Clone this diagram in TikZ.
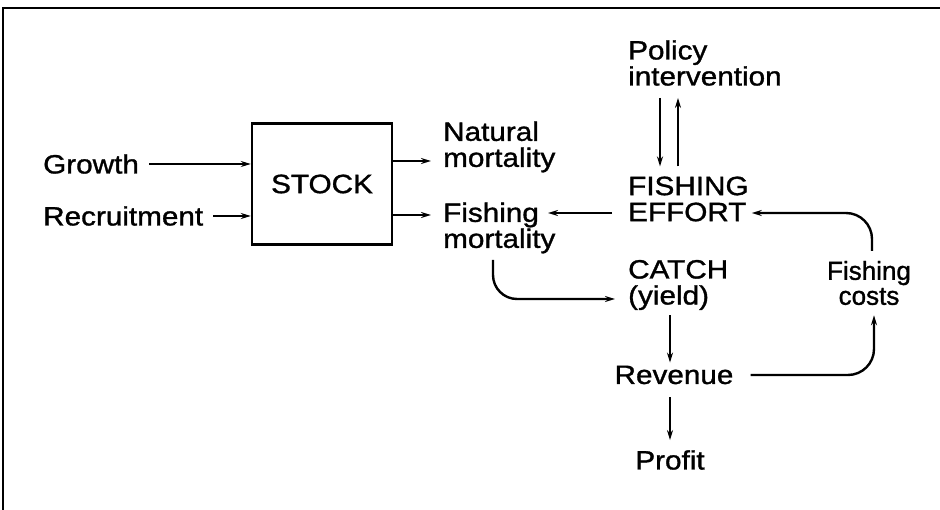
\documentclass[tikz,border=0pt]{standalone}
\usepackage{fontspec}
\setmainfont[FakeStretch=1.12, FakeBold=1.2]{Liberation Sans}
\newfontfamily\plainsans[FakeBold=1.2]{Liberation Sans}
\usetikzlibrary{arrows.meta}
\newcommand\bigtxt{\fontsize{26.5}{26}\selectfont}
\newcommand\smalltxt{\plainsans\fontsize{26}{25}\selectfont}
\tikzset{
  lbl/.style={inner sep=0pt, anchor=west, align=left, font=\bigtxt},
  flow/.style={line width=2.4pt, -{Stealth[length=10pt,width=6pt]}},
  stockbox/.style={draw, line width=2.4pt, minimum width=140pt, minimum height=121pt, font=\bigtxt}
}
\begin{document}
\begin{tikzpicture}[x=1pt, y=-1pt]
\useasboundingbox (0,0) rectangle (940,510);
% frame
\draw[line width=1.6pt] (3,510) -- (3,8) -- (940,8);

% stock side
\node[lbl] (growth) at (43,164) {Growth};
\node[lbl] (recruit) at (43,216) {Recruitment};
\node[stockbox] (stock) at (322,184) {STOCK};
\node[lbl] (natural) at (443,147) {Natural\\mortality};
\node[lbl] (fishmort) at (443,228) {Fishing\\mortality};

% economics side
\node[lbl] (policy) at (628,63) {Policy\\intervention};
\node[lbl] (effort) at (628,199) {FISHING\\EFFORT};
\node[lbl] (catch) at (628,285) {CATCH\\(yield)};
\node[lbl, font=\smalltxt, align=center, anchor=center] (costs) at (869,283) {Fishing\\costs};
\node[lbl, anchor=center] (revenue) at (674,375) {Revenue};
\node[lbl, anchor=center] (profit) at (670,460) {Profit};

\coordinate (natin) at ([xshift=-12pt,yshift=-14pt]natural.west);
\coordinate (fmin) at ([xshift=-12pt,yshift=13pt]fishmort.west);
\coordinate (fmend) at (548,213);
\coordinate (fmbot) at (493,260);
\coordinate (catchin) at ([xshift=-13pt,yshift=-14pt]catch.west);
\coordinate (effin) at ([xshift=3pt,yshift=-14pt]effort.east);
\coordinate (effout) at ([xshift=-16pt,yshift=-14pt]effort.west);

\draw[flow] ([xshift=10pt]growth.east) -- (stock.west |- growth.east);
\draw[flow] ([xshift=10pt]recruit.east) -- (stock.west |- recruit.east);
\draw[flow] (stock.east |- natin) -- (natin);
\draw[flow] (stock.east |- fmin) -- (fmin);

\draw[flow] ([xshift=32pt,yshift=-12pt]policy.south west) -- ([xshift=32pt,yshift=10pt]effort.north west);
\draw[flow] ([xshift=50pt,yshift=10pt]effort.north west) -- ([xshift=50pt,yshift=-12pt]policy.south west);
\draw[flow] (effout) -- (fmend);
\draw[flow, rounded corners=24pt] (fmbot) |- (catchin);
\draw[flow, rounded corners=26pt] ([xshift=3pt,yshift=10pt]costs.north) |- (effin);
\draw[flow, rounded corners=26pt] ([xshift=17pt]revenue.east) -| ([xshift=5pt,yshift=-10pt]costs.south);
\draw[flow] ([yshift=-5pt]catch.south -| profit.north) -- ([yshift=3pt]revenue.north -| profit.north);
\draw[flow] ([yshift=-13pt]revenue.south -| profit.north) -- ([yshift=10pt]profit.north);
\end{tikzpicture}
\end{document}
